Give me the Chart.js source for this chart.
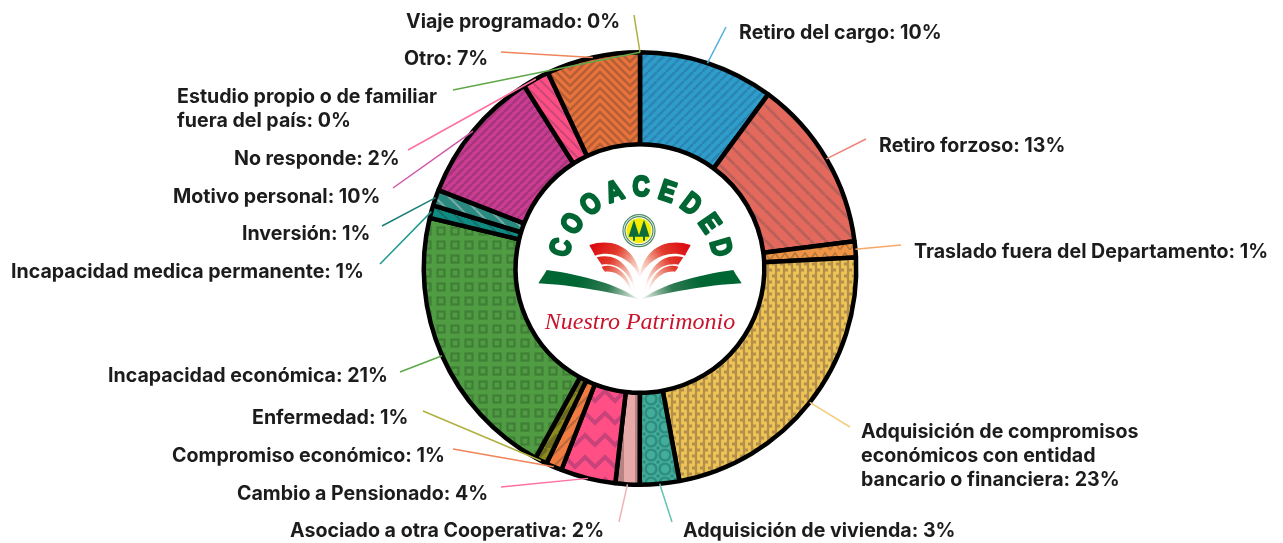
<!DOCTYPE html>
<html><head><meta charset="utf-8">
<style>html,body{margin:0;padding:0;background:#fff}canvas{display:block}</style>
<script src="https://cdn.jsdelivr.net/npm/chart.js@4"></script>
</head><body><canvas id="c" width="1283" height="543"></canvas>
<script>
const categories = ["Retiro del cargo","Retiro forzoso","Traslado fuera del Departamento","Adquisición de compromisos económicos con entidad bancario o financiera","Adquisición de vivienda","Asociado a otra Cooperativa","Cambio a Pensionado","Compromiso económico","Enfermedad","Incapacidad económica","Incapacidad medica permanente","Inversión","Motivo personal","No responde","Otro","Estudio propio o de familiar fuera del país","Viaje programado"];
const values = [10.1,12.9,1.2,22.9,2.95,1.8,4.1,1.2,0.9,20.75,0.95,1.2,10.1,2.0,7.0,0,0];
const labelLines = [["Retiro del cargo: 10%"],["Retiro forzoso: 13%"],["Traslado fuera del Departamento: 1%"],["Adquisición de compromisos","económicos con entidad","bancario o financiera: 23%"],["Adquisición de vivienda: 3%"],["Asociado a otra Cooperativa: 2%"],["Cambio a Pensionado: 4%"],["Compromiso económico: 1%"],["Enfermedad: 1%"],["Incapacidad económica: 21%"],["Incapacidad medica permanente: 1%"],["Inversión: 1%"],["Motivo personal: 10%"],["No responde: 2%"],["Otro: 7%"],["Estudio propio o de familiar","fuera del país: 0%"],["Viaje programado: 0%"]];
const labelX = [739,879,914,861,683,290,237,172,252,108,11,242,173,234,404,177,406];
const labelY = [33,146,252,432,531,531,494,456,418,376,272,234,197,159,59,97,22];
const leaderEndX = [726,866,901,850,672,619,501,453,423,400,380,382,393,408,501,453,634];
const leaderEndY = [27,139,245,427,522,522,487,449,411,372,264,226,188,150,52,90,15];
const leaderColors = ["#4fb0dc","#ec8577","#f6a866","#f2cd7c","#62c4ae","#f0b4b4","#ff6f9f","#f0845a","#aeb03f","#5fa84a","#1f9a8e","#1c7f78","#d156a8","#ff6f9f","#f0845a","#5fa84a","#aeb03f"];

function pat(w,h,bg,fg,lw,draw){
  const c=document.createElement('canvas');c.width=w;c.height=h;
  const x=c.getContext('2d');x.fillStyle=bg;x.fillRect(0,0,w,h);
  x.strokeStyle=fg;x.fillStyle=fg;x.lineWidth=lw;x.lineCap='butt';x.lineJoin='miter';
  draw(x,w,h);
  return document.getElementById('c').getContext('2d').createPattern(c,'repeat');
}
function up(x,w,h){for(let i=-1;i<=1;i++){x.beginPath();x.moveTo(i*w,h);x.lineTo(i*w+w,0);x.stroke();}}
function down(x,w,h){for(let i=-1;i<=1;i++){x.beginPath();x.moveTo(i*w,0);x.lineTo(i*w+w,h);x.stroke();}}
const patterns=[
 pat(9,9,"#2f9dcc","#2b86b0",2.6,up),
 pat(15,15,"#e2695b","#b9605a",3,down),
 pat(10,10,"#f09445","#b87a3c",1.6,(x)=>{x.beginPath();x.moveTo(0,10);x.lineTo(5,3);x.lineTo(10,10);x.stroke();}),
 pat(8,12,"#b28f4c","#eec455",2.8,(x)=>{x.beginPath();x.moveTo(2.5,-1);x.lineTo(2.5,3);x.lineTo(5.5,3);x.lineTo(5.5,9);x.lineTo(2.5,9);x.lineTo(2.5,13);x.stroke();}),
 pat(14,14,"#42ad9a","#2f8d7f",2.4,(x)=>{x.beginPath();x.arc(7,7,5.4,0,7);x.stroke();for(const[a,b]of[[0,0],[14,0],[0,14],[14,14]]){x.beginPath();x.arc(a,b,1.8,0,7);x.fill();}}),
 pat(24,8,"#e8a9a9","#b98383",13,(x)=>{x.beginPath();x.moveTo(17.5,0);x.lineTo(17.5,8);x.stroke();}),
 pat(20,22,"#ff4f85","#c8437a",4,(x)=>{for(const o of [0,22]){x.beginPath();x.moveTo(-5,o+5);x.lineTo(5,o-5);x.lineTo(15,o+5);x.lineTo(25,o-5);x.stroke();}}),
 pat(12,12,"#f07c42","#b8683a",2,up),
 pat(14,14,"#8a8a1e","#6a6a20",6,up),
 pat(14,14,"#509c42","#417e38",2.2,(x)=>{x.strokeRect(3.5,3.5,7,7);}),
 pat(12,12,"#0f8c82","#17706c",2,down),
 pat(14,14,"#2b8a80","#79aaa4",2,down),
 pat(8,8,"#cb3c93","#a73579",2.6,up),
 pat(10,10,"#ff4f85","#c9487a",2.2,down),
 pat(60,8,"#e8733b","#b65f36",2.6,(x)=>{for(let y=-48;y<=16;y+=8){x.beginPath();x.moveTo(-2,y-2);x.lineTo(30,y+30);x.lineTo(62,y-2);x.stroke();}}),
 "#5fa84a","#aeb03f"
];

const FONT='700 19.6px Inter, "Open Sans", sans-serif';
const overlay={id:'overlay',afterDraw(chart){
  const ctx=chart.ctx,arcs=chart.getDatasetMeta(0).data;
  const cx=arcs[0].x,cy=arcs[0].y,R=arcs[0].outerRadius;
  ctx.save();
  ctx.lineWidth=1.5;
  arcs.forEach((a,i)=>{
    const m=(a.startAngle+a.endAngle)/2;
    ctx.strokeStyle=leaderColors[i];ctx.beginPath();
    ctx.moveTo(cx+Math.cos(m)*R,cy+Math.sin(m)*R);
    ctx.lineTo(leaderEndX[i],leaderEndY[i]);ctx.stroke();
  });
  ctx.font=FONT;ctx.fillStyle="#1c1c1c";ctx.textBaseline="middle";ctx.textAlign="left";
  labelLines.forEach((ls,i)=>ls.forEach((t,j)=>ctx.fillText(t,labelX[i],labelY[i]+j*24)));
  // logo
  const P=(x,y)=>[520+x/3,170+y/3];
  const shape=(pts,fill)=>{ctx.fillStyle=fill;ctx.beginPath();ctx.moveTo(...P(pts[0],pts[1]));
    for(let i=2;i<pts.length;i+=6)ctx.bezierCurveTo(...P(pts[i],pts[i+1]),...P(pts[i+2],pts[i+3]),...P(pts[i+4],pts[i+5]));
    ctx.closePath();ctx.fill();};
  const mirror=pts=>pts.map((v,i)=>i%2==0?720-v:v);
  const grad=(x0,y0,x1,y1,stops)=>{const g=ctx.createLinearGradient(...P(x0,y0),...P(x1,y1));stops.forEach(s=>g.addColorStop(s[0],s[1]));return g;};
  const red=[[0,"#dc0d12"],[0.4,"#e23a2c"],[0.75,"#f3b5a4"],[1,"#fdf0ec"]];
  const fans=[
    [208,225, 285,200,352,240,361,322, 335,268,280,238,225,257, 220,245,212,235,208,225],
    [230,262, 285,246,335,285,345,360, 330,312,295,275,245,284, 240,276,235,270,230,262],
    [245,290, 285,278,326,310,335,365, 318,328,292,300,255,305, 251,300,248,296,245,290]];
  fans.forEach(f=>{
    shape(f,grad(215,240,350,330,red));
    shape(mirror(f),grad(505,240,370,330,red));
  });
  const book=[80,300, 190,315,300,345,355,388, 290,370,160,345,55,340, 62,328,72,315,80,300];
  const gr=[[0,"#006633"],[0.5,"#2f7a52"],[1,"#e8efe9"]];
  shape(book,grad(180,320,350,385,gr));
  shape(mirror(book),grad(540,320,370,385,gr));
  const [ex,ey]=P(357,182);
  ctx.strokeStyle="#4d8a68";ctx.lineWidth=1.2;ctx.fillStyle="#fff";
  ctx.beginPath();ctx.arc(ex,ey,16,0,7);ctx.fill();ctx.stroke();
  ctx.beginPath();ctx.arc(ex,ey,14,0,7);ctx.stroke();
  ctx.fillStyle="#f5ec00";ctx.beginPath();ctx.arc(ex,ey,12.5,0,7);ctx.fill();
  ctx.fillStyle="#0b6b3a";
  [-5,5].forEach(d=>{ctx.beginPath();ctx.moveTo(ex+d,ey-11);ctx.lineTo(ex+d+5.5,ey+6);ctx.lineTo(ex+d+1,ey+6);ctx.lineTo(ex+d+1,ey+10);ctx.lineTo(ex+d-1,ey+10);ctx.lineTo(ex+d-1,ey+6);ctx.lineTo(ex+d-5.5,ey+6);ctx.closePath();ctx.fill();});
  const title="COOACEDED";ctx.fillStyle="#006633";ctx.strokeStyle="#006633";ctx.lineWidth=2.2;ctx.lineJoin='round';ctx.textAlign="center";ctx.textBaseline="middle";
  ctx.font='700 25px "Liberation Sans", sans-serif';
  [...title].forEach((ch,i)=>{
    const ang=(-74+i*18.5)*Math.PI/180;
    ctx.save();ctx.translate(cx+1+Math.sin(ang)*82,cy+2-Math.cos(ang)*82);ctx.rotate(ang);ctx.scale(0.95,1.15);ctx.strokeText(ch,0,0);ctx.fillText(ch,0,0);ctx.restore();
  });
  ctx.font='italic 400 24px "Liberation Serif", serif';ctx.fillStyle="#c8142c";
  ctx.fillText("Nuestro Patrimonio",cx,cy+54);
  ctx.restore();
}};

new Chart(document.getElementById('c'),{
  type:'doughnut',
  data:{labels:categories,datasets:[{data:values,backgroundColor:patterns,borderColor:"#000",borderWidth:4.5,borderAlign:'center'}]},
  options:{responsive:false,animation:false,cutout:'57.5%',rotation:0,
    layout:{padding:{top:50,bottom:56,left:0,right:3}},
    plugins:{legend:{display:false},tooltip:{enabled:false}}},
  plugins:[overlay]
});
</script></body></html>
